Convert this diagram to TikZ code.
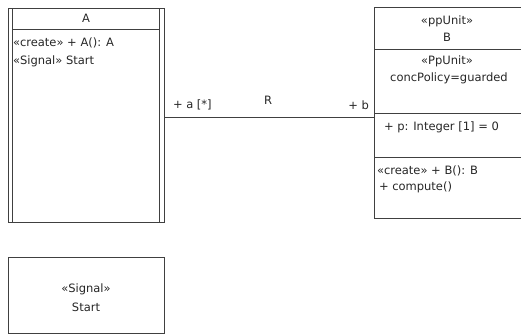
\documentclass[tikz,border=0pt]{standalone}
\usepackage{fontspec}
\setmainfont{DejaVu Sans}
\begin{document}
\begin{tikzpicture}[x=1pt,y=-1pt,
  line width=1pt,
  every node/.style={inner sep=0pt,outer sep=0pt},
  box/.style={draw=black!75,anchor=north west,rectangle},
  txt/.style={font=\fontsize{11.5}{13}\selectfont,text=black!85},
  ln/.style={draw=black!75}]
\useasboundingbox (0,0) rectangle (521,335);
% class A (active)
\node[box,minimum width=156pt,minimum height=214pt] (A) at (8,8) {};
\draw[ln] ([xshift=4.5pt]A.north west) -- ([xshift=4.5pt]A.south west);
\draw[ln] ([xshift=-4.5pt]A.north east) -- ([xshift=-4.5pt]A.south east);
\draw[ln] ([xshift=4.5pt,yshift=-21pt]A.north west) coordinate (ah1) -- ([xshift=-4.5pt,yshift=-21pt]A.north east) coordinate (ah2);
\node[txt] (An) at (86,18) {A};
\node[txt,anchor=west] (Aop) at (13,43) {«create»\ + A(): A};
\node[txt,anchor=west] (Asig) at (13,61) {«Signal» Start};
% class B
\node[box,minimum width=150pt,minimum height=211pt] (B) at (374,7) {};
\draw[ln] ([yshift=-42pt]B.north west) -- ([yshift=-42pt]B.north east);
\draw[ln] ([yshift=-106pt]B.north west) -- ([yshift=-106pt]B.north east);
\draw[ln] ([yshift=-150pt]B.north west) -- ([yshift=-150pt]B.north east);
\node[txt] (Bst) at (447,21) {«ppUnit»};
\node[txt] (Bn) at (447,37) {B};
\node[txt] (Bst2) at (447,61) {«PpUnit»};
\node[txt] (Bcp) at (449,78) {concPolicy=guarded};
\node[txt,anchor=west] (Bp) at (384,127) {+ p: Integer [1] = 0};
\node[txt,anchor=west] (Bop1) at (377,171) {«create»\ + B(): B};
\node[txt,anchor=west] (Bop2) at (379,187) {+ compute()};
% association
\coordinate (lvl) at (0,117);
\draw[ln] (A.east |- lvl) -- (B.west |- lvl);
\node[txt,anchor=west] (la) at (173,105) {+ a [*]};
\node[txt] (lr) at (268,100) {R};
\node[txt,anchor=east] (lb) at (369,105) {+ b};
% signal
\node[box,minimum width=156pt,minimum height=76pt] (S) at (8,257) {};
\node[txt] (Ss) at (86,289) {«Signal»};
\node[txt] (Sn) at (86,307) {Start};
\end{tikzpicture}
\end{document}
